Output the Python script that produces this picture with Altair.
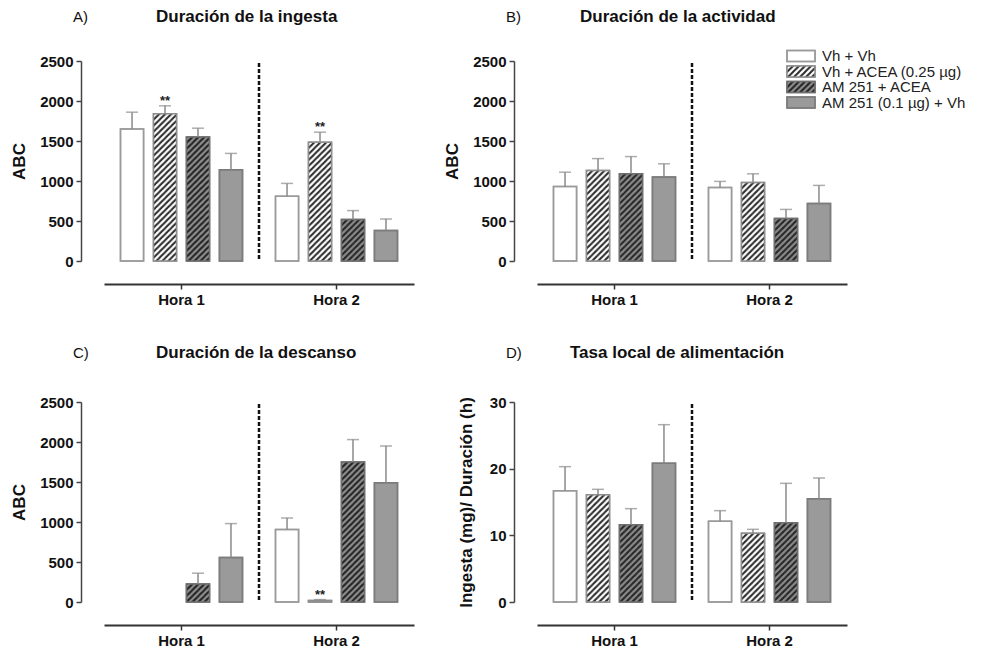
import base64
import altair as alt
import pandas as pd

FONT = "Liberation Sans"

# ---------------- data ----------------
groups = ["Vh + Vh", "Vh + ACEA (0.25 µg)", "AM 251 + ACEA", "AM 251 (0.1 µg) + Vh"]
horas = ["Hora 1", "Hora 2"]

# A) Duración de la ingesta
a_h1 = [1650, 1840, 1550, 1140]
a_h1_err = [210, 100, 110, 205]
a_h2 = [810, 1485, 520, 380]
a_h2_err = [160, 125, 110, 145]
a_sig_h1 = ["", "**", "", ""]
a_sig_h2 = ["", "**", "", ""]

# B) Duración de la actividad
b_h1 = [930, 1130, 1090, 1050]
b_h1_err = [180, 150, 215, 165]
b_h2 = [920, 980, 530, 720]
b_h2_err = [75, 110, 115, 225]
b_sig_h1 = ["", "", "", ""]
b_sig_h2 = ["", "", "", ""]

# C) Duración de la descanso
c_h1 = [None, None, 225, 555]
c_h1_err = [None, None, 135, 425]
c_h2 = [905, 20, 1750, 1490]
c_h2_err = [145, 10, 280, 460]
c_sig_h1 = ["", "", "", ""]
c_sig_h2 = ["", "**", "", ""]

# D) Tasa local de alimentación
d_h1 = [16.7, 16.1, 11.6, 20.8]
d_h1_err = [3.6, 0.8, 2.4, 5.8]
d_h2 = [12.1, 10.3, 11.9, 15.5]
d_h2_err = [1.6, 0.6, 5.9, 3.1]
d_sig_h1 = ["", "", "", ""]
d_sig_h2 = ["", "", "", ""]

# ---------------- styles ----------------
FILL = ["#ffffff", "#ffffff", "#8c8c8c", "#9a9a9a"]
STROKE = ["#9a9a9a", "#8e8e8e", "#6e6e6e", "#7c7c7c"]


def hatch_url(bg, fg):
    svg = (
        '<svg xmlns="http://www.w3.org/2000/svg">'
        '<defs><pattern id="p" width="6" height="6" patternUnits="userSpaceOnUse">'
        f'<rect width="6" height="6" fill="{bg}"/>'
        f'<path d="M-1,1 L1,-1 M0,6 L6,0 M5,7 L7,5" stroke="{fg}" stroke-width="2"/>'
        '</pattern></defs><rect width="100%" height="100%" fill="url(#p)"/></svg>'
    )
    return "data:image/svg+xml;base64," + base64.b64encode(svg.encode()).decode()


PATTERN = {groups[1]: hatch_url("#ffffff", "#2e2e2e"), groups[2]: hatch_url("#8c8c8c", "#262626")}

fill_scale = alt.Scale(domain=groups, range=FILL)
stroke_scale = alt.Scale(domain=groups, range=STROKE)


def build_df(h1, h1e, h2, h2e, s1, s2):
    rows = []
    for hora, vals, errs, sigs in [("Hora 1", h1, h1e, s1), ("Hora 2", h2, h2e, s2)]:
        for g, v, e, s in zip(groups, vals, errs, sigs):
            if v is None:
                continue
            rows.append({"hora": hora, "grupo": g, "v": v, "e": e, "sig": s,
                         "pat": PATTERN.get(g)})
    return pd.DataFrame(rows)


def x_axis():
    return alt.Axis(title=None, offset=23, labelAngle=0, labelFontSize=15,
                    labelFontWeight="bold", labelColor="#111", labelPadding=3,
                    tickSize=5, tickColor="#333", tickWidth=1.5,
                    domainColor="#333", domainWidth=2)


def panel(letter, title, ytitle, ymax, yticks, df, tdx, tdy, ytpad, legend=False):
    xscale = alt.Scale(domain=horas, paddingInner=0, paddingOuter=0)
    xenc = alt.X("hora:N", scale=xscale, axis=x_axis())
    xoff = alt.XOffset("grupo:N", scale=alt.Scale(domain=groups, paddingInner=0.3, paddingOuter=0.5))
    yscale = alt.Scale(domain=[0, ymax], nice=False)
    yaxis = alt.Axis(title=ytitle, values=yticks, format="d", offset=23, grid=False,
                     labelOverlap=False, labelFontSize=15, labelFontWeight="bold",
                     labelColor="#111", labelPadding=3, tickSize=5, tickColor="#444",
                     tickWidth=1.5, domainColor="#444", domainWidth=1.5, titleFontSize=17,
                     titleFontWeight="bold", titleColor="#111", titlePadding=ytpad)

    base = alt.Chart(df).encode(x=xenc, xOffset=xoff)

    bars = base.mark_bar(strokeWidth=1.5).encode(
        y=alt.Y("v:Q", scale=yscale, axis=yaxis),
        fill=alt.Fill("grupo:N", scale=fill_scale, legend=None),
        stroke=alt.Stroke("grupo:N", scale=stroke_scale, legend=None),
    )
    hatch = base.transform_filter("isValid(datum.pat)").mark_image(aspect=False).encode(
        y=alt.Y("v:Q", scale=yscale, axis=yaxis),
        y2=alt.datum(0),
        url="pat:N",
    )
    outline = base.mark_bar(fillOpacity=0, strokeWidth=1.5).encode(
        y=alt.Y("v:Q", scale=yscale, axis=yaxis),
        stroke=alt.Stroke("grupo:N", scale=stroke_scale, legend=None),
    )
    withtop = base.transform_calculate(top="datum.v + datum.e")
    err = withtop.mark_rule(color="#8a8a8a", strokeWidth=1.5).encode(
        y=alt.Y("v:Q", scale=yscale, axis=yaxis), y2="top:Q")
    cap = withtop.mark_tick(color="#8a8a8a", thickness=1.5, size=12).encode(
        y=alt.Y("top:Q", scale=yscale, axis=yaxis))
    sig = withtop.mark_text(fontSize=13, fontWeight="bold", color="#222",
                            baseline="alphabetic", dy=-1).encode(
        y=alt.Y("top:Q", scale=yscale, axis=yaxis), text="sig:N")
    divider = alt.Chart(pd.DataFrame({"hora": ["Hora 2"]})).mark_rule(
        strokeDash=[4, 2], strokeWidth=2.5, color="#111").encode(
        x=alt.X("hora:N", bandPosition=0, scale=xscale, axis=x_axis()),
        y=alt.Y(datum=ymax * 0.99, scale=yscale, axis=yaxis), y2=alt.datum(0))
    lab = alt.Chart(pd.DataFrame({"t": [letter]})).mark_text(
        align="left", baseline="middle", fontSize=15, color="#111").encode(
        x=alt.value(-31), y=alt.value(tdy), text="t:N")
    ttl = alt.Chart(pd.DataFrame({"t": [title]})).mark_text(
        align="left", baseline="middle", fontSize=17, fontWeight="bold", color="#111").encode(
        x=alt.value(tdx), y=alt.value(tdy), text="t:N")

    inner = alt.layer(bars, hatch, outline, err, cap, sig, divider, lab, ttl)

    if legend:
        leg = pd.DataFrame({"grupo": groups, "pat": [PATTERN.get(g) for g in groups]})
        ly = alt.Y("grupo:N", axis=None,
                   scale=alt.Scale(domain=groups, range=[-12.75, 49.25],
                                   paddingInner=0.29, paddingOuter=0.145))
        lb = alt.Chart(leg).encode(y=ly)
        sw = lb.mark_rect(strokeWidth=1.5).encode(
            x=alt.value(250), x2=alt.value(278),
            fill=alt.Fill("grupo:N", scale=fill_scale, legend=None),
            stroke=alt.Stroke("grupo:N", scale=stroke_scale, legend=None))
        swi = lb.transform_filter("isValid(datum.pat)").mark_image(aspect=False).encode(
            x=alt.value(250), x2=alt.value(278), url="pat:N")
        swo = lb.mark_rect(fillOpacity=0, strokeWidth=1.5).encode(
            x=alt.value(250), x2=alt.value(278),
            stroke=alt.Stroke("grupo:N", scale=stroke_scale, legend=None))
        txt = lb.mark_text(align="left", baseline="middle", fontSize=15, color="#222").encode(
            x=alt.value(285), text="grupo:N")
        return alt.layer(inner, sw, swi, swo, txt).resolve_scale(y="independent").properties(
            width=310, height=200)
    return inner.properties(width=310, height=200)


pA = panel("A)", "Duración de la ingesta", "ABC", 2500, [0, 500, 1000, 1500, 2000, 2500],
           build_df(a_h1, a_h1_err, a_h2, a_h2_err, a_sig_h1, a_sig_h2), 52, -44, 11)
pB = panel("B)", "Duración de la actividad", "ABC", 2500, [0, 500, 1000, 1500, 2000, 2500],
           build_df(b_h1, b_h1_err, b_h2, b_h2_err, b_sig_h1, b_sig_h2), 43, -44, 11, legend=True)
pC = panel("C)", "Duración de la descanso", "ABC", 2500, [0, 500, 1000, 1500, 2000, 2500],
           build_df(c_h1, c_h1_err, c_h2, c_h2_err, c_sig_h1, c_sig_h2), 52, -49, 11)
pD = panel("D)", "Tasa local de alimentación", "Ingesta (mg)/ Duración (h)", 30, [0, 10, 20, 30],
           build_df(d_h1, d_h1_err, d_h2, d_h2_err, d_sig_h1, d_sig_h2), 33, -49, 14)

row1 = alt.hconcat(pA, pB, spacing=29)
row2 = alt.hconcat(pC, pD, spacing=43)

chart = alt.vconcat(row1, row2, spacing=37).properties(
    padding={"left": 2, "top": 0, "right": 5, "bottom": 5}
).configure(font=FONT).configure_view(stroke=None)

chart.save("out.html", embed_options={"renderer": "svg", "actions": False})
